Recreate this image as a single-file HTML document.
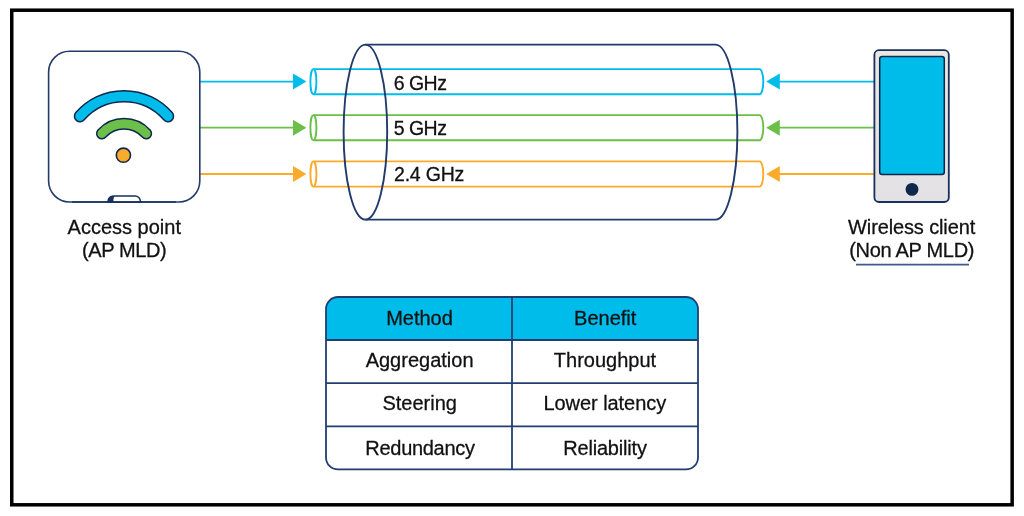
<!DOCTYPE html>
<html lang="en">
<head>
<meta charset="utf-8">
<title>Multi-Link Operation</title>
<style>
html,body{margin:0;padding:0;background:#fff;}
body{width:1024px;height:516px;overflow:hidden;position:relative;}
svg{display:block;position:absolute;left:0;top:0;will-change:transform;}
text{font-family:"Liberation Sans",Arial,Helvetica,sans-serif;fill:#111;stroke:#111;stroke-width:0.28px;}
.lbl{font-size:20px;text-anchor:middle;}
.ghz{font-size:19.5px;}
.cell{font-size:20px;text-anchor:middle;}
</style>
</head>
<body>
<svg width="1024" height="516" viewBox="0 0 1024 516">
  <defs>
    <linearGradient id="pg" x1="0" y1="0" x2="0" y2="1">
      <stop offset="0" stop-color="#ebe8e2"/>
      <stop offset="1" stop-color="#e3e1e4"/>
    </linearGradient>
  </defs>
  <!-- outer frame -->
  <rect x="11.75" y="10.2" width="1000.4" height="494.6" fill="#fff" stroke="#000" stroke-width="3.5"/>

  <!-- connector lines + arrows (left) -->
  <g stroke-width="1.8" fill="none">
    <line x1="200" y1="81.6" x2="294" y2="81.6" stroke="#00bceb"/>
    <line x1="200" y1="127.7" x2="294" y2="127.7" stroke="#6cc04a"/>
    <line x1="200" y1="174" x2="294" y2="174" stroke="#fbab2c"/>
    <line x1="779" y1="81.6" x2="874" y2="81.6" stroke="#00bceb"/>
    <line x1="779" y1="127.7" x2="874" y2="127.7" stroke="#6cc04a"/>
    <line x1="779" y1="174" x2="874" y2="174" stroke="#fbab2c"/>
  </g>
  <g>
    <polygon points="293,73.6 306.4,81.6 293,89.6" fill="#00bceb"/>
    <polygon points="293,119.7 306.4,127.7 293,135.7" fill="#6cc04a"/>
    <polygon points="293,166 306.4,174 293,182" fill="#fbab2c"/>
    <polygon points="779.8,73.6 766.2,81.6 779.8,89.6" fill="#00bceb"/>
    <polygon points="779.8,119.7 766.2,127.7 779.8,135.7" fill="#6cc04a"/>
    <polygon points="779.8,166 766.2,174 779.8,182" fill="#fbab2c"/>
  </g>

  <!-- small tubes -->
  <g fill="none" stroke-width="1.9">
    <g stroke="#00bceb">
      <ellipse cx="313.4" cy="81.7" rx="3" ry="12.6"/>
      <path d="M313.4 69.1 H759.5 A3.8 12.6 0 0 1 759.5 94.3 H313.4"/>
    </g>
    <g stroke="#6cc04a">
      <ellipse cx="313.4" cy="127.7" rx="3" ry="12.6"/>
      <path d="M313.4 115.1 H759.5 A3.8 12.6 0 0 1 759.5 140.3 H313.4"/>
    </g>
    <g stroke="#fbab2c">
      <ellipse cx="313.4" cy="174" rx="3" ry="12.6"/>
      <path d="M313.4 161.4 H759.5 A3.8 12.6 0 0 1 759.5 186.6 H313.4"/>
    </g>
  </g>

  <!-- big cylinder -->
  <g fill="none" stroke="#223b6a" stroke-width="1.9">
    <ellipse cx="365.4" cy="132.1" rx="21.8" ry="87.5"/>
    <path d="M365.4 44.6 H715.6 A21.8 87.5 0 0 1 715.6 219.6 H365.4"/>
  </g>

  <!-- tube labels -->
  <text class="ghz" x="393.7" y="89.6" letter-spacing="-0.5">6 GHz</text>
  <text class="ghz" x="393.7" y="135" letter-spacing="-0.5">5 GHz</text>
  <text class="ghz" x="394" y="180.8" letter-spacing="-0.2">2.4 GHz</text>

  <!-- access point -->
  <g>
    <rect x="48.6" y="51.2" width="151.2" height="150.8" rx="21" ry="21" fill="#fff" stroke="#223b6a" stroke-width="1.6"/>
    <path d="M108 202 V201.4 A5.4 5.4 0 0 1 113.4 196 H135 A5.4 5.4 0 0 1 140.4 201.4 V202 Z" fill="#fff" stroke="#17305c" stroke-width="1.5"/>
    <path d="M108 202 V201.4 A5.4 5.4 0 0 1 113.4 196 H114.4 Q113.2 198.6 113.4 202 Z" fill="#17305c"/>
    <line x1="72" y1="202" x2="176" y2="202" stroke="#17305c" stroke-width="1.7"/>
    <!-- wifi arcs -->
    <path d="M80 116.2 A58.4 58.4 0 0 1 168 116.2" fill="none" stroke="#0d274d" stroke-width="12.6" stroke-linecap="round"/>
    <path d="M80 116.2 A58.4 58.4 0 0 1 168 116.2" fill="none" stroke="#00bceb" stroke-width="9.6" stroke-linecap="round"/>
    <path d="M101.9 133.5 A30 30 0 0 1 146.2 133.5" fill="none" stroke="#0d274d" stroke-width="12" stroke-linecap="round"/>
    <path d="M101.9 133.5 A30 30 0 0 1 146.2 133.5" fill="none" stroke="#6cc04a" stroke-width="9" stroke-linecap="round"/>
    <circle cx="123.4" cy="155.2" r="7.1" fill="#fbab2c" stroke="#0d274d" stroke-width="1.6"/>
  </g>
  <text class="lbl" x="124.3" y="234.4">Access point</text>
  <text class="lbl" x="124.1" y="256.9" letter-spacing="-0.4">(AP MLD)</text>

  <!-- phone -->
  <g>
    <rect x="874.4" y="50.2" width="74.4" height="151.8" rx="4.5" ry="4.5" fill="url(#pg)" stroke="#17305c" stroke-width="1.8"/>
    <rect x="879.7" y="56.6" width="64.6" height="117.8" rx="2.5" ry="2.5" fill="#00bceb" stroke="#0d274d" stroke-width="1.5"/>
    <circle cx="912" cy="189.4" r="6.4" fill="#0d274d"/>
  </g>
  <text class="lbl" x="911.6" y="234.4" letter-spacing="-0.13">Wireless client</text>
  <text class="lbl" x="911.7" y="256.9" letter-spacing="-0.3">(Non AP MLD)</text>
  <line x1="856" y1="264.7" x2="969" y2="264.7" stroke="#3c5a8c" stroke-width="1.8"/>

  <!-- table -->
  <g>
    <path d="M326 340 V309 A12 12 0 0 1 338 297 H686 A12 12 0 0 1 698 309 V340 Z" fill="#00bceb"/>
    <rect x="326" y="297" width="372" height="172.4" rx="12" ry="12" fill="none" stroke="#223d72" stroke-width="1.8"/>
    <g stroke="#223d72" stroke-width="1.8">
      <line x1="326" y1="340" x2="698" y2="340"/>
      <line x1="326" y1="383.2" x2="698" y2="383.2"/>
      <line x1="326" y1="426.3" x2="698" y2="426.3"/>
      <line x1="512" y1="297" x2="512" y2="469.4"/>
    </g>
    <text class="cell" x="419.5" y="324.8">Method</text>
    <text class="cell" x="605.2" y="324.8">Benefit</text>
    <text class="cell" x="419.6" y="367">Aggregation</text>
    <text class="cell" x="605" y="367">Throughput</text>
    <text class="cell" x="419.7" y="409.8">Steering</text>
    <text class="cell" x="604.8" y="409.8" letter-spacing="-0.05">Lower latency</text>
    <text class="cell" x="420" y="454.6" letter-spacing="-0.3">Redundancy</text>
    <text class="cell" x="605" y="454.6" letter-spacing="-0.2">Reliability</text>
  </g>
</svg>
</body>
</html>
